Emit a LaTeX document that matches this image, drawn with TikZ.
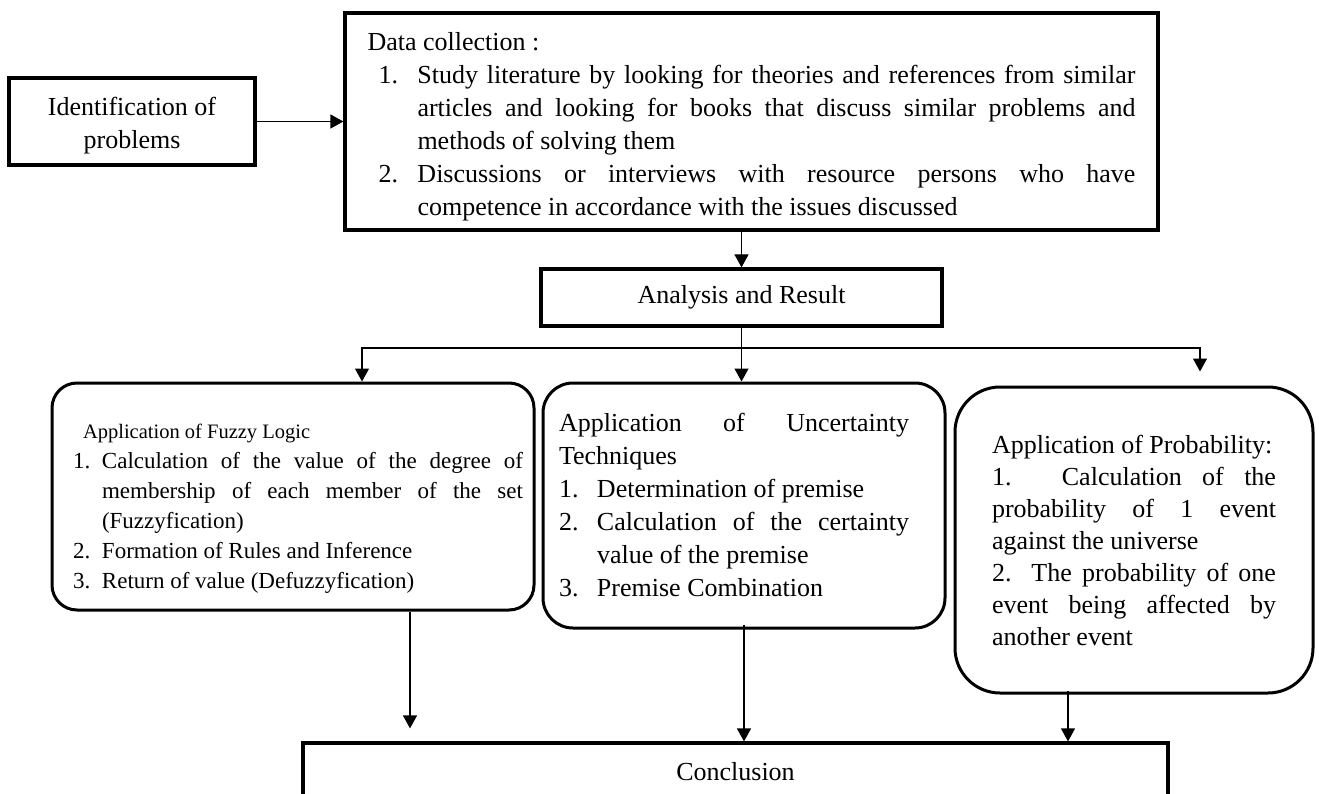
\documentclass[tikz,border=0pt]{standalone}
\usepackage{fontspec}
\setmainfont{Liberation Serif}
\usetikzlibrary{arrows.meta}

\begin{document}
\begin{tikzpicture}
            [x=1pt, y=-1pt,
             box/.style={draw, line width=3.2pt, inner sep=0pt, align=justify,
                         execute at begin node={\parindent=0pt\tolerance=10000\hyphenpenalty=10000}},
             soft/.style={box, line width=3pt, rounded corners=#1},
             arr/.style={line width=1.2pt, -{Triangle[length=13pt,width=14pt]}},
             big/.style={font=\fontsize{26}{33}\selectfont}]
            \useasboundingbox (0,0) rectangle (1319,794);
            \clip (0,0) rectangle (1319,794);
            \node [box, big, align=center, minimum width=246, minimum height=87] (ident) at (132,121.5) {\rule{0pt}{26pt}Identification of\\problems};
            \node [box, big, minimum width=813, minimum height=217, text width=768] (data) at (751.5,121.5)
                {\rightskip=0pt\rule{0pt}{28pt}Data collection :\par
                 \hangindent=50pt\hangafter=1 \hspace*{11pt}\makebox[39pt][l]{1.}Study literature by looking for theories and references from similar\linebreak articles and looking for books that discuss similar problems and\linebreak methods of solving them\par
                 \hangindent=50pt\hangafter=1 \hspace*{11pt}\makebox[39pt][l]{2.}Discussions or interviews with resource persons who have\linebreak competence in accordance with the issues discussed\par};
            \node [box, big, align=center, minimum width=401, minimum height=57] (analysis) at (741.5,297.5) {Analysis and Result};
            \node [soft=25pt, font=\fontsize{23}{30}\selectfont, minimum width=482, minimum height=227, text width=460] (fuzzy) at (293,496.5)
                {\leftskip=10pt\rightskip=0pt
                 \rule{0pt}{38pt}\hspace*{10pt}{\fontsize{20.5}{30}\selectfont Application of Fuzzy Logic}\par
                 \hangindent=29pt\hangafter=1 \makebox[29pt][l]{1.}Calculation of the value of the degree of\linebreak membership of each member of the set\linebreak (Fuzzyfication)\par
                 \hangindent=29pt\hangafter=1 \makebox[29pt][l]{2.}Formation of Rules and Inference\par
                 \hangindent=29pt\hangafter=1 \makebox[29pt][l]{3.}Return of value (Defuzzyfication)\par};
            \node [soft=30pt, big, minimum width=402, minimum height=245, text width=370] (uncert) at (744,505.5)
                {\leftskip=0pt\rightskip=20pt
                 Application of Uncertainty\linebreak Techniques\par
                 \hangindent=38pt\hangafter=1 \makebox[38pt][l]{1.}Determination of premise\par
                 \hangindent=38pt\hangafter=1 \makebox[38pt][l]{2.}Calculation of the certainty\linebreak value of the premise\par
                 \hangindent=38pt\hangafter=1 \makebox[38pt][l]{3.}Premise Combination\par};
            \node [soft=45pt, font=\fontsize{26}{32}\selectfont, minimum width=358, minimum height=306, text width=284] (prob) at (1134,540)
                {\rightskip=0pt
                 \mbox{Application of Probability:}\par
                 1. Calculation of the\linebreak probability of 1 event\linebreak against the universe\par
                 2. The probability of one\linebreak event being affected by\linebreak another event\par};
            \node [box, big, align=center, minimum width=865, minimum height=58] (concl) at (735.5,772) {Conclusion};
            \draw [arr] (ident) -- (data);
            \draw [arr] (analysis.north |- data.south) -- (analysis.north);
            \coordinate (split) at (741.5,348);
            \draw [line width=1.2pt] (analysis.south) -- (split);
            \draw [arr] (split) -- (split |- uncert.north);
            \draw [arr] (split) -| ([xshift=69pt]fuzzy.north);
            \draw [arr] (split) -| ([xshift=66pt,yshift=14pt]prob.north);
            \coordinate (fuzzyout) at ([xshift=117pt]fuzzy.south);
            \path (fuzzyout |- concl.north) ++(0,-13) coordinate (fuzzyend);
            \draw [arr] (fuzzyout) -- (fuzzyend);
            \coordinate (uncertout) at ([yshift=5pt]uncert.south);
            \draw [arr] (uncertout) -- (uncertout |- concl.north);
            \coordinate (probout) at ([xshift=-66pt,yshift=4pt]prob.south);
            \draw [arr] (probout) -- (probout |- concl.north);
        \end{tikzpicture}
\end{document}
